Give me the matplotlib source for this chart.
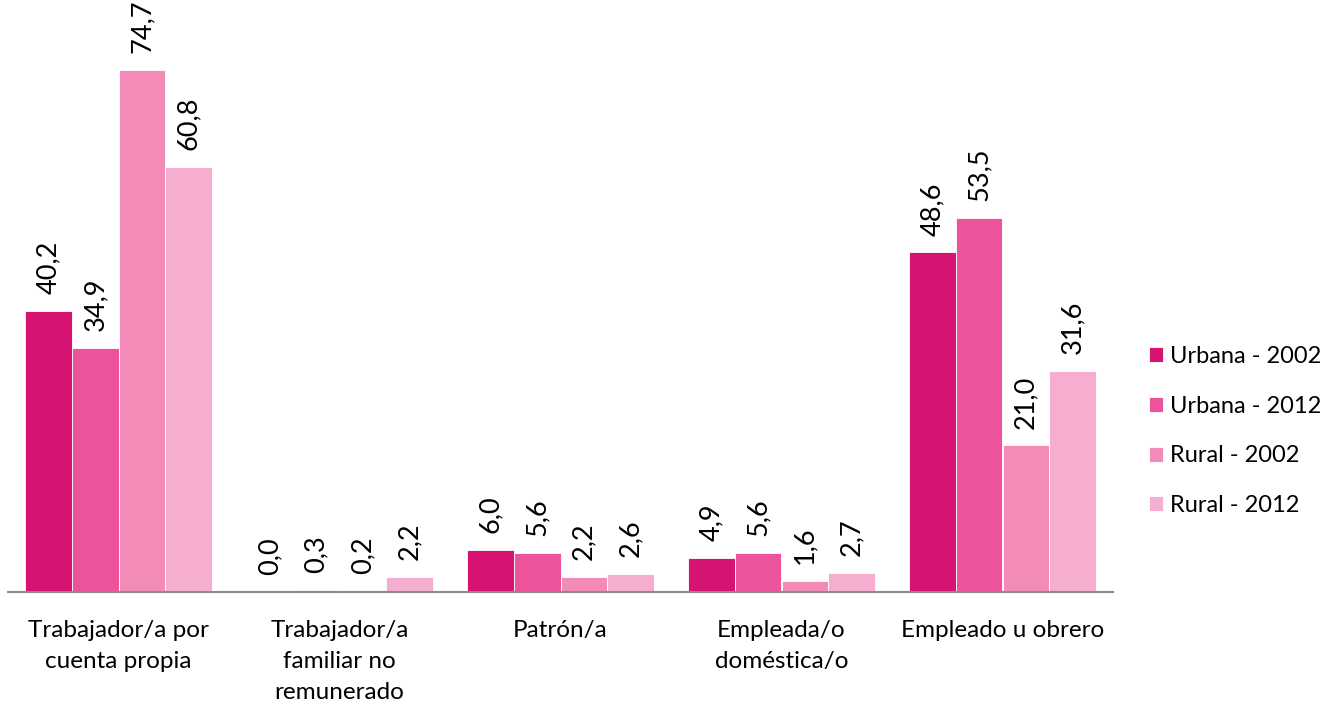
import matplotlib
matplotlib.use("Agg")
import matplotlib.pyplot as plt
import numpy as np

# data
categories = ["Trabajador/a por\ncuenta propia", "Trabajador/a\nfamiliar no\nremunerado",
              "Patrón/a", "Empleada/o\ndoméstica/o", "Empleado u obrero"]
series_names = ["Urbana - 2002", "Urbana - 2012", "Rural - 2002", "Rural - 2012"]
urbana_2002 = [40.2, 0.0, 6.0, 4.9, 48.6]
urbana_2012 = [34.9, 0.3, 5.6, 5.6, 53.5]
rural_2002 = [74.7, 0.2, 2.2, 1.6, 21.0]
rural_2012 = [60.8, 2.2, 2.6, 2.7, 31.6]
colors = ["#D61371", "#EC539A", "#F28BB7", "#F5AECF"]

plt.rcParams['font.family'] = ['Lato', 'DejaVu Sans']
fs = 17.5

fig = plt.figure(figsize=(13.32, 7.05), dpi=100)
ax = fig.add_axes([8/1332, 113/705, 1105/1332, 592/705])

x = np.arange(len(categories))
bw = 0.211
all_series = [urbana_2002, urbana_2012, rural_2002, rural_2012]
for i, vals in enumerate(all_series):
    pos = x + (i - 1.5) * bw
    ax.bar(pos, vals, width=bw, color=colors[i], label=series_names[i],
           edgecolor="white", linewidth=0.6)
    for px, v in zip(pos, vals):
        ax.annotate(("%.1f" % v).replace(".", ","), (px, v), xytext=(0, 12),
                    textcoords="offset points", rotation=90,
                    ha="center", va="bottom", fontsize=19.5, color="black")

ax.set_xlim(-0.5, 4.5)
ax.set_ylim(0, 592/6.99)
ax.set_xticks(x)
ax.set_xticklabels(categories, fontsize=fs, linespacing=1.6)
ax.tick_params(axis="x", length=0, pad=20)
ax.set_yticks([])
for s in ["top", "right", "left"]:
    ax.spines[s].set_visible(False)
ax.spines["bottom"].set_color("#8C8C8C")
ax.spines["bottom"].set_linewidth(1.5)

leg = fig.legend(loc="center left", bbox_to_anchor=(1128/1332, 1 - 431/705),
                 frameon=False, fontsize=17, handlelength=0.6, handleheight=0.6,
                 handletextpad=0.3, labelspacing=1.22)

fig.savefig("out.png", dpi=100)
